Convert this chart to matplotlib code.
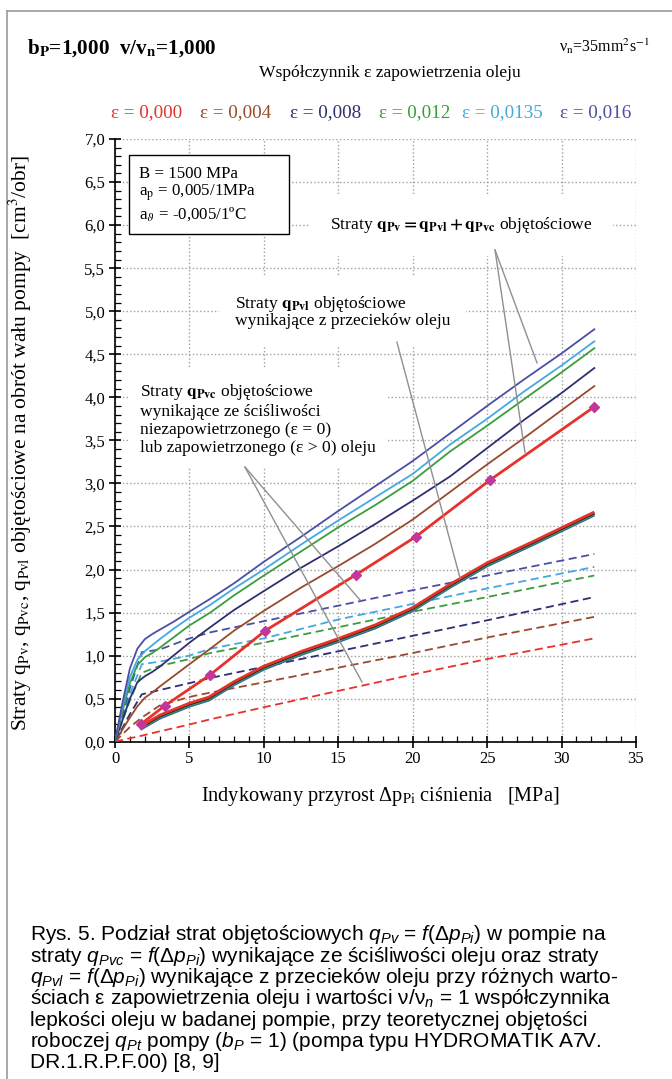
import matplotlib
matplotlib.use("Agg")
import matplotlib.pyplot as plt
import matplotlib.transforms as mtransforms
from matplotlib.ticker import MultipleLocator, FuncFormatter
from matplotlib.lines import Line2D
from matplotlib.patches import Rectangle

plt.rcParams["font.family"] = ["Liberation Serif", "DejaVu Serif"]
plt.rcParams["mathtext.fontset"] = "custom"
plt.rcParams["mathtext.rm"] = "Liberation Sans"
plt.rcParams["mathtext.it"] = "Liberation Sans:italic"
plt.rcParams["mathtext.bf"] = "Liberation Sans:bold"

# ---- data ----
eps_labels = ["ε = 0,000", "ε = 0,004", "ε = 0,008", "ε = 0,012", "ε = 0,0135", "ε = 0,016"]
eps_colors = ["#e8312d", "#9a4a2c", "#2e2f72", "#3a9e3c", "#43a9e1", "#4b4fa3"]

# total losses q_Pv (solid), eps = 0 measured with markers
dp_e0 = [1.75, 3.36, 6.38, 10.1, 16.2, 20.2, 25.2, 32.2]
qpv_e0 = [0.205, 0.42, 0.775, 1.29, 1.94, 2.38, 3.04, 3.89]

dp = [0, 0.5, 1, 1.5, 2, 2.5, 3, 4, 5, 6.4, 8, 10, 12.5, 15, 17.5, 20, 22.5, 25, 27.5, 30, 32.2]
qpv_e004 = [0, 0.14, 0.28, 0.41, 0.51, 0.57, 0.64, 0.77, 0.90, 1.08, 1.29, 1.52, 1.79, 2.04, 2.30, 2.58, 2.90, 3.22, 3.53, 3.85, 4.13]
qpv_e008 = [0, 0.25, 0.50, 0.69, 0.76, 0.81, 0.87, 1.01, 1.15, 1.33, 1.53, 1.75, 2.02, 2.27, 2.53, 2.80, 3.08, 3.41, 3.74, 4.05, 4.34]
qpv_e012 = [0, 0.35, 0.68, 0.89, 0.98, 1.03, 1.09, 1.22, 1.35, 1.50, 1.70, 1.93, 2.21, 2.49, 2.75, 3.03, 3.37, 3.67, 3.98, 4.29, 4.57]
qpv_e0135 = [0, 0.40, 0.75, 0.95, 1.05, 1.12, 1.19, 1.32, 1.44, 1.59, 1.78, 2.00, 2.29, 2.57, 2.84, 3.11, 3.45, 3.75, 4.07, 4.37, 4.65]
qpv_e016 = [0, 0.45, 0.85, 1.08, 1.19, 1.25, 1.30, 1.40, 1.51, 1.66, 1.84, 2.09, 2.38, 2.68, 2.97, 3.26, 3.58, 3.90, 4.21, 4.51, 4.79]

# compressibility losses q_Pvc (dashed)
dpc = [0, 1, 1.8, 3, 5, 6.4, 10, 15, 20, 25, 32.2]
qpvc_e0 = [0, 0.04, 0.07, 0.12, 0.20, 0.26, 0.40, 0.59, 0.78, 0.96, 1.20]
qpvc_e004 = [0, 0.17, 0.28, 0.42, 0.52, 0.57, 0.69, 0.86, 1.03, 1.21, 1.45]
qpvc_e008 = [0, 0.32, 0.55, 0.60, 0.68, 0.74, 0.87, 1.05, 1.23, 1.41, 1.68]
qpvc_e012 = [0, 0.48, 0.80, 0.88, 0.96, 1.03, 1.15, 1.33, 1.51, 1.68, 1.93]
qpvc_e0135 = [0, 0.55, 0.90, 0.93, 1.00, 1.08, 1.20, 1.42, 1.60, 1.78, 2.03]
qpvc_e016 = [0, 0.62, 1.04, 1.07, 1.20, 1.27, 1.40, 1.58, 1.76, 1.93, 2.18]

# leakage losses q_Pvl (thick bundle, nearly equal for all eps)
dpl = [1.7, 3, 5, 6.3, 8, 10, 12.5, 15, 17.5, 20, 22.5, 25, 28, 32.2]
qpvl = [0.16, 0.29, 0.43, 0.50, 0.68, 0.86, 1.03, 1.18, 1.34, 1.54, 1.81, 2.06, 2.30, 2.65]

qpv_curves = [qpv_e004, qpv_e008, qpv_e012, qpv_e0135, qpv_e016]
qpvc_curves = [qpvc_e0, qpvc_e004, qpvc_e008, qpvc_e012, qpvc_e0135, qpvc_e016]

W, H = 672, 1079
fig = plt.figure(figsize=(W / 100, H / 100), dpi=100)


def fx(px):
    return px / W


def fy(py):
    return 1 - py / H


ax = fig.add_axes([fx(115), fy(741.7), fx(636) - fx(115), fy(139) - fy(741.7)])
ax.set_xlim(0, 35)
ax.set_ylim(0, 7)

# axes / ticks
ax.spines["top"].set_visible(False)
ax.spines["right"].set_visible(False)
ax.spines["left"].set_linewidth(1.2)
ax.spines["bottom"].set_linewidth(1.2)
ax.xaxis.set_major_locator(MultipleLocator(5))
ax.xaxis.set_minor_locator(MultipleLocator(1))
ax.yaxis.set_major_locator(MultipleLocator(0.5))
ax.yaxis.set_minor_locator(MultipleLocator(0.1))
ax.yaxis.set_major_formatter(FuncFormatter(lambda v, p: f"{v:.1f}".replace(".", ",")))
ax.tick_params(which="major", direction="inout", length=8, width=1.2, labelsize=12, pad=3)
ax.tick_params(which="minor", direction="in", length=4, width=0.9)

# dotted grid at the major ticks (incl. the top/right limits)
ax.set_axisbelow(True)
ax.grid(True, which="major", color="#a0a0a0", linestyle=":", linewidth=1.0)

# dashed compressibility curves
for y, c in zip(qpvc_curves, eps_colors):
    ax.plot(dpc, y, color=c, lw=1.3, linestyle=(0, (4.5, 2.5)), zorder=3)

# thick leakage bundle
bundle = [("#3a55b0", -1.1), ("#2a8a8a", -0.5), ("#3a9e3c", 0.0), ("#222222", 0.5), ("#e8312d", 1.1)]
for c, off in bundle:
    tr = mtransforms.offset_copy(ax.transData, fig=fig, x=0, y=off, units="points")
    ax.plot(dpl, qpvl, color=c, lw=2.0, transform=tr, zorder=4, solid_capstyle="butt")

# solid total-loss curves
for y, c in zip(qpv_curves, eps_colors[1:]):
    ax.plot(dp, y, color=c, lw=1.3, zorder=5)
ax.plot(dp_e0, qpv_e0, color=eps_colors[0], lw=2.0, zorder=6)
ax.plot(dp_e0, qpv_e0, linestyle="none", marker="D", ms=5, color="#c0399a", zorder=7)

# annotation texts with white boxes
ann_kw = dict(family=["Liberation Serif", "DejaVu Serif"], math_fontfamily="stix", fontsize=12.6, zorder=2)
ax.text(23.24, 6.0, r"Straty $\mathbf{q_{Pv}=q_{Pvl}+q_{Pvc}}$ objętościowe", ha="center", va="center",
        bbox=dict(facecolor="white", edgecolor="none", boxstyle="square,pad=1.2"), **ann_kw)
ax.text(8.06, 5.0, "Straty $\\mathbf{q_{Pvl}}$ objętościowe\nwynikające z przecieków oleju",
        ha="left", va="center", linespacing=0.95,
        bbox=dict(facecolor="white", edgecolor="none", boxstyle="square,pad=0.9"), **ann_kw)
ax.text(1.68, 3.75, "Straty $\\mathbf{q_{Pvc}}$ objętościowe\nwynikające ze ściśliwości\n"
        "niezapowietrzonego (ε = 0)\nlub zapowietrzonego (ε > 0) oleju",
        ha="left", va="center", linespacing=1.17,
        bbox=dict(facecolor="white", edgecolor="none", boxstyle="square,pad=0.7"), **ann_kw)

# parameter box
ax.add_patch(Rectangle((0.94, 5.90), 10.75, 0.91, facecolor="white", edgecolor="black", lw=1.0, zorder=8))
ax.text(1.61, 6.36, "B = 1500 MPa\na$_\\mathrm{p}$ = 0,005/1MPa\na$_\\vartheta$ = -0,005/1ºC",
        ha="left", va="center", linespacing=1.1,
        family=["Liberation Serif", "DejaVu Serif"], math_fontfamily="stix", fontsize=12.2, zorder=9)

# pointer lines
pointers = [((25.53, 5.71), (28.35, 4.40)), ((25.53, 5.71), (27.54, 3.36)),
            ((18.94, 4.64), (23.18, 1.90)),
            ((8.73, 3.19), (16.46, 1.646)), ((8.73, 3.19), (16.59, 0.694))]
for (x0, y0), (x1, y1) in pointers:
    ax.plot([x0, x1], [y0, y1], color="#8f8f8f", lw=1.0, zorder=8)

# figure texts
sf = dict(family=["Liberation Serif", "DejaVu Serif"], math_fontfamily="stix")
fig.text(fx(27), fy(48), r"b$_\mathbf{P}$=1,000  v/v$_\mathbf{n}$=1,000", fontsize=15.2, weight="bold",
         ha="left", va="center", **sf)
fig.text(fx(650), fy(46), r"ν$_\mathrm{n}$=35mm$^2$s$^{-1}$", fontsize=11.5, ha="right", va="center", **sf)
fig.text(fx(390), fy(73), "Współczynnik ε zapowietrzenia oleju", fontsize=12.6, ha="center", va="center", **sf)
for lab, c, px in zip(eps_labels, eps_colors, [147, 236, 326, 415, 502, 596]):
    fig.text(fx(px), fy(113), lab, color=c, fontsize=13.8, ha="center", va="center", **sf)

fig.text(fx(20), fy(443),
         r"Straty q$_\mathrm{Pv}$, q$_\mathrm{Pvc}$, q$_\mathrm{Pvl}$ objętościowe na obrót wału pompy  [cm$^3$/obr]",
         rotation=90, fontsize=15.5, ha="center", va="center", **sf)
fig.text(fx(380), fy(797), r"Indykowany przyrost Δp$_\mathrm{Pi}$ ciśnienia   [MPa]",
         fontsize=14.6, ha="center", va="center", **sf)

caption = [
    r"Rys. 5. Podział strat objętościowych $q_{Pv}$ = $f$(Δ$p_{Pi}$) w pompie na",
    r"straty $q_{Pvc}$ = $f$(Δ$p_{Pi}$) wynikające ze ściśliwości oleju oraz straty",
    r"$q_{Pvl}$ = $f$(Δ$p_{Pi}$) wynikające z przecieków oleju przy różnych warto-",
    r"ściach ε zapowietrzenia oleju i wartości ν/ν$_{n}$ = 1 współczynnika",
    r"lepkości oleju w badanej pompie, przy teoretycznej objętości",
    r"roboczej $q_{Pt}$ pompy ($b_P$ = 1) (pompa typu HYDROMATIK A7V.",
    r"DR.1.R.P.F.00) [8, 9]",
]
for i, line in enumerate(caption):
    fig.text(fx(30), fy(935 + 21.3 * i), line, fontsize=15, ha="left", va="center",
             family=["Liberation Sans", "DejaVu Sans"], math_fontfamily="custom")

# outer frame
fig.add_artist(Line2D([fx(7), fx(7)], [fy(11), 0], color="#9a9a9a", lw=1.2))
fig.add_artist(Line2D([fx(7), 1], [fy(11), fy(11)], color="#9a9a9a", lw=1.2))

fig.savefig("out.png", dpi=100)
